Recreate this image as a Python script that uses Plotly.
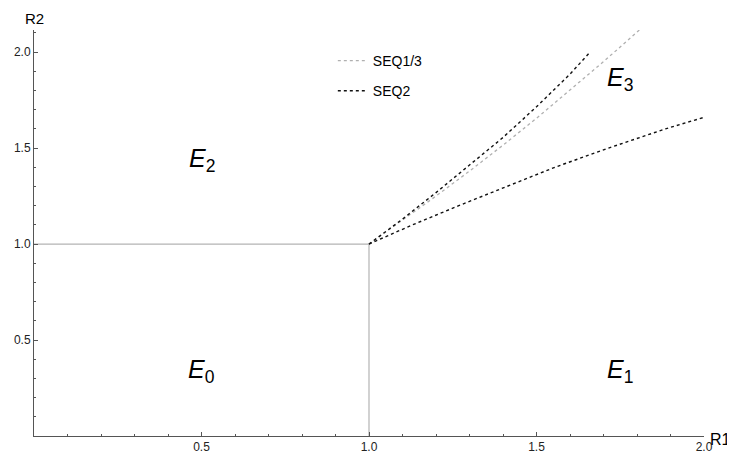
import plotly.graph_objects as go

# Region boundaries (solid gray)
bound_x = [0.0, 1.0, 1.0]
bound_y = [1.0, 1.0, 0.0]

# SEQ1/3 curve (gray dotted)
seq13_x = [1.0, 1.1, 1.2, 1.3, 1.4, 1.5, 1.6, 1.7, 1.82]
seq13_y = [1.0, 1.125, 1.25, 1.38, 1.515, 1.655, 1.80, 1.95, 2.135]

# SEQ2 curves (black dotted) - upper branch and lower branch
seq2_up_x = [1.0, 1.1, 1.2, 1.3, 1.4, 1.5, 1.6, 1.66]
seq2_up_y = [1.0, 1.13, 1.268, 1.41, 1.555, 1.715, 1.885, 2.0]
seq2_lo_x = [1.0, 1.13, 1.268, 1.41, 1.555, 1.715, 1.885, 2.0]
seq2_lo_y = [1.0, 1.1, 1.2, 1.3, 1.4, 1.5, 1.6, 1.66]

# Region labels
region_names = ["E", "E", "E", "E"]
region_subs = ["0", "1", "2", "3"]
region_x = [0.5, 1.75, 0.5, 1.75]
region_y = [0.34, 0.34, 1.44, 1.86]

tick_vals = [0.5, 1.0, 1.5, 2.0]
tick_text = ["0.5", "1.0", "1.5", "2.0"]

FONT = "Liberation Sans, Arial, sans-serif"

fig = go.Figure()
fig.add_trace(go.Scatter(x=bound_x, y=bound_y, mode="lines",
                         line=dict(color="#b4b4b4", width=1.2),
                         showlegend=False, hoverinfo="skip"))
fig.add_trace(go.Scatter(x=seq13_x, y=seq13_y, mode="lines", name="SEQ1/3",
                         legendgroup="a",
                         line=dict(color="#b0b0b0", width=1.3, dash="dot")))
fig.add_trace(go.Scatter(x=seq2_up_x + [None] + seq2_lo_x,
                         y=seq2_up_y + [None] + seq2_lo_y,
                         mode="lines", name="SEQ2", legendgroup="b",
                         line=dict(color="#111111", width=1.4, dash="dot")))

for n, s, x, y in zip(region_names, region_subs, region_x, region_y):
    fig.add_annotation(x=x, y=y, xref="x", yref="y",
                       text=f"<i>{n}</i><sub>{s}</sub>", showarrow=False,
                       font=dict(family=FONT, size=25, color="black"))

fig.add_annotation(x=0, y=1, xref="paper", yref="paper", xanchor="center",
                   yanchor="bottom", yshift=1, text="R2", showarrow=False,
                   font=dict(family=FONT, size=15, color="black"))
fig.add_annotation(x=1, y=0, xref="paper", yref="paper", xanchor="left",
                   yanchor="middle", xshift=4, yshift=-3, text="R1", showarrow=False,
                   font=dict(family=FONT, size=16, color="black"))

axis_common = dict(showgrid=False, zeroline=False, showline=True,
                   linecolor="#555555", linewidth=1, automargin=False,
                   ticks="inside", ticklen=4, tickcolor="#555555",
                   tickvals=tick_vals, ticktext=tick_text,
                   tickfont=dict(family=FONT, size=12, color="#222222"),
                   minor=dict(dtick=0.1, tick0=0, ticks="inside", ticklen=2,
                              tickcolor="#555555", showgrid=False))

fig.update_xaxes(range=[0, 2.0], **axis_common)
fig.update_yaxes(range=[0, 2.115], **axis_common)

fig.update_layout(
    width=727, height=447,
    margin=dict(l=26, r=31, t=22, b=19),
    plot_bgcolor="white", paper_bgcolor="white",
    font=dict(family=FONT),
    legend=dict(x=0.446, y=0.963, xanchor="left", yanchor="top",
                bgcolor="rgba(0,0,0,0)", tracegroupgap=9,
                font=dict(family=FONT, size=14, color="black")),
)

fig.write_html("out.html")
